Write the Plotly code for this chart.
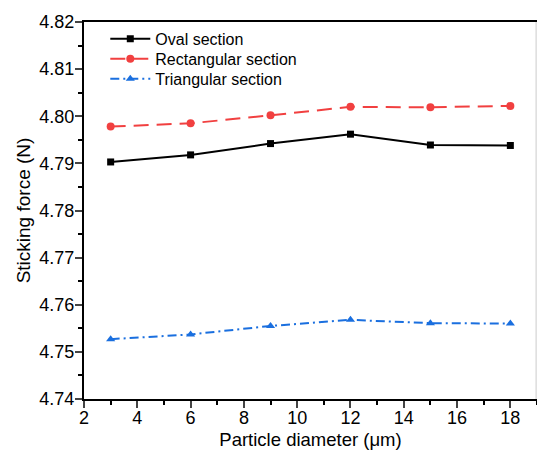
import plotly.graph_objects as go

diameter = [3, 6, 9, 12, 15, 18]
oval = [4.7903, 4.7918, 4.7942, 4.7962, 4.7939, 4.7938]
rect = [4.7978, 4.7985, 4.8002, 4.8020, 4.8019, 4.8022]
tri = [4.7527, 4.7537, 4.7555, 4.7568, 4.7561, 4.7560]
x_ticks = [2, 4, 6, 8, 10, 12, 14, 16, 18]
y_ticks = [4.74, 4.75, 4.76, 4.77, 4.78, 4.79, 4.80, 4.81, 4.82]
y_labels = ["4.74", "4.75", "4.76", "4.77", "4.78", "4.79", "4.80", "4.81", "4.82"]

fig = go.Figure()
fig.add_trace(go.Scatter(x=diameter, y=oval, name="Oval section", mode="lines+markers",
                         line=dict(color="black", width=2), legend="legend",
                         marker=dict(symbol="square", size=7, color="black")))
fig.add_trace(go.Scatter(x=diameter, y=rect, name="Rectangular section", mode="lines+markers",
                         line=dict(color="#F14040", width=2, dash="15px,8px"), legend="legend2",
                         marker=dict(symbol="circle", size=8, color="#F14040")))
fig.add_trace(go.Scatter(x=diameter, y=tri, name="Triangular section", mode="lines+markers",
                         line=dict(color="#1A6FDF", width=2, dash="9px,4px,2px,4px"), legend="legend3",
                         marker=dict(symbol="triangle-up", size=8, color="#1A6FDF")))

font = "Liberation Sans, Arial, sans-serif"
leg = dict(x=0.047, xanchor="left", yanchor="middle", bgcolor="rgba(0,0,0,0)",
           font=dict(size=16), itemwidth=40, borderwidth=0)
fig.update_layout(
    width=537, height=450,
    margin=dict(l=84, r=0, t=22, b=51),
    plot_bgcolor="white", paper_bgcolor="white",
    font=dict(family=font, size=18, color="black"),
    legend=dict(leg, y=0.955),
    legend2=dict(leg, y=0.902),
    legend3=dict(leg, y=0.849),
    showlegend=True,
    shapes=[dict(type="line", xref="paper", yref="paper", x0=0.998, x1=0.998, y0=0, y1=1,
                 line=dict(color="#cccccc", width=1))],
)
fig.update_xaxes(range=[2, 19], tickmode="array", tickvals=x_ticks,
                 ticks="outside", ticklen=7, tickwidth=2, showline=True, linewidth=2,
                 linecolor="black", mirror=True, showgrid=False, zeroline=False,
                 minor=dict(ticks="outside", dtick=1, tick0=0, ticklen=4, tickwidth=2, tickcolor="black", showgrid=False),
                 title=dict(text="Particle diameter (μm)", font=dict(size=18.5), standoff=9),
                 tickfont=dict(size=18), ticklabelstandoff=-6)
fig.update_yaxes(range=[4.74, 4.82], tickmode="array", tickvals=y_ticks, ticktext=y_labels,
                 ticks="outside", ticklen=7, tickwidth=2, showline=True, linewidth=2,
                 linecolor="black", mirror=False, showgrid=False, zeroline=False,
                 minor=dict(ticks="outside", dtick=0.005, tick0=4.74, ticklen=4, tickwidth=2, tickcolor="black", showgrid=False),
                 title=dict(text="Sticking force (N)", font=dict(size=19), standoff=4),
                 tickfont=dict(size=18), ticklabelstandoff=-3)

fig.write_html("out.html", config={"displayModeBar": False},
               post_script="document.body.style.margin='0';document.body.style.overflow='hidden';")
